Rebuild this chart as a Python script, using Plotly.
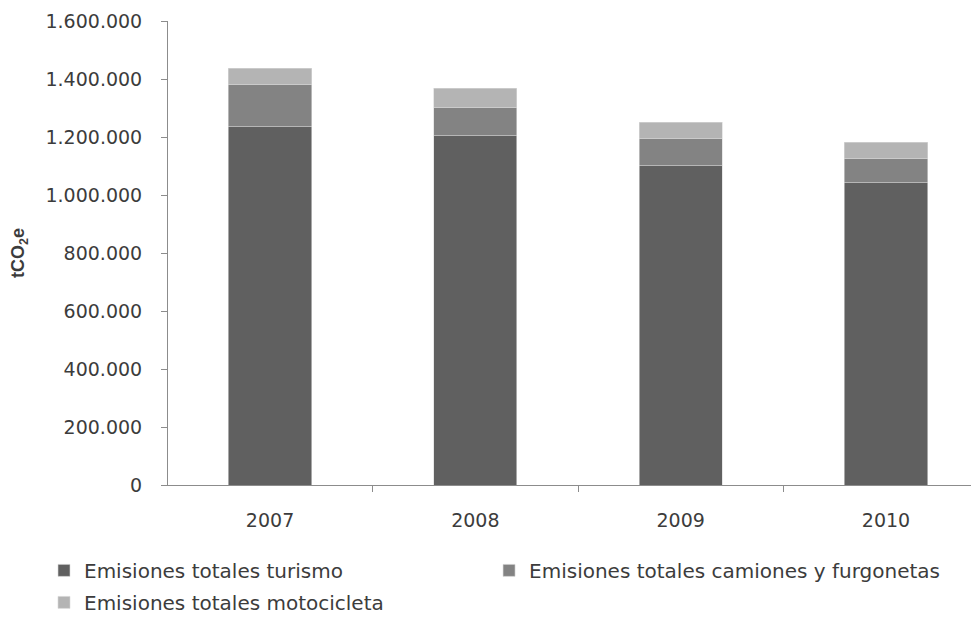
import plotly.graph_objects as go

years = ["2007", "2008", "2009", "2010"]
turismo = [1235500, 1204500, 1101000, 1042400]
camiones = [144800, 98900, 93100, 82800]
motocicleta = [56600, 64600, 56600, 56500]

series = [
    ("Emisiones totales turismo", turismo, "#606060", "legend"),
    ("Emisiones totales camiones y furgonetas", camiones, "#838383", "legend3"),
    ("Emisiones totales motocicleta", motocicleta, "#b4b4b4", "legend2"),
]

FONT = "DejaVu Sans"
TXT = "#3c3c3c"
fig = go.Figure()
for name, vals, col, leg in series:
    fig.add_trace(go.Bar(
        x=years, y=vals, name=name, width=0.405, legend=leg,
        marker=dict(color=col, line=dict(color="#d8d8d8", width=0.6)),
    ))

legend_common = dict(
    orientation="h", xanchor="left", yanchor="top",
    font=dict(family=FONT, size=20, color=TXT),
    traceorder="normal", itemwidth=30, bgcolor="rgba(0,0,0,0)",
)

fig.update_layout(
    barmode="stack",
    width=979, height=628,
    margin=dict(l=160, r=0, t=13, b=151, autoexpand=False),
    plot_bgcolor="white", paper_bgcolor="white",
    separators=",.",
    font=dict(family=FONT, size=19, color=TXT),
    showlegend=True,
    legend=dict(x=-0.1514, y=-0.142, **legend_common),
    legend3=dict(x=0.392, y=-0.142, **legend_common),
    legend2=dict(x=-0.1514, y=-0.211, **legend_common),
    xaxis=dict(
        range=[-0.497, 3.492], showline=True, linecolor="#8c8c8c", linewidth=1,
        ticks="outside", tickson="boundaries", ticklen=6, tickcolor="#8c8c8c",
        showgrid=False, automargin=False, ticklabelstandoff=18,
        tickfont=dict(size=19, color=TXT),
    ),
    yaxis=dict(
        range=[0, 1600000], dtick=200000, tickformat=",d",
        showline=True, linecolor="#8c8c8c", linewidth=1,
        ticks="outside", ticklen=6, tickcolor="#8c8c8c",
        showgrid=False, zeroline=False, automargin=False, ticklabelstandoff=15,
        tickfont=dict(size=19, color=TXT),
        title=dict(text="<b>tCO<sub>2</sub>e</b>", font=dict(family="Liberation Sans", size=18, color=TXT), standoff=16),
    ),
)

fig.write_html("out.html")
